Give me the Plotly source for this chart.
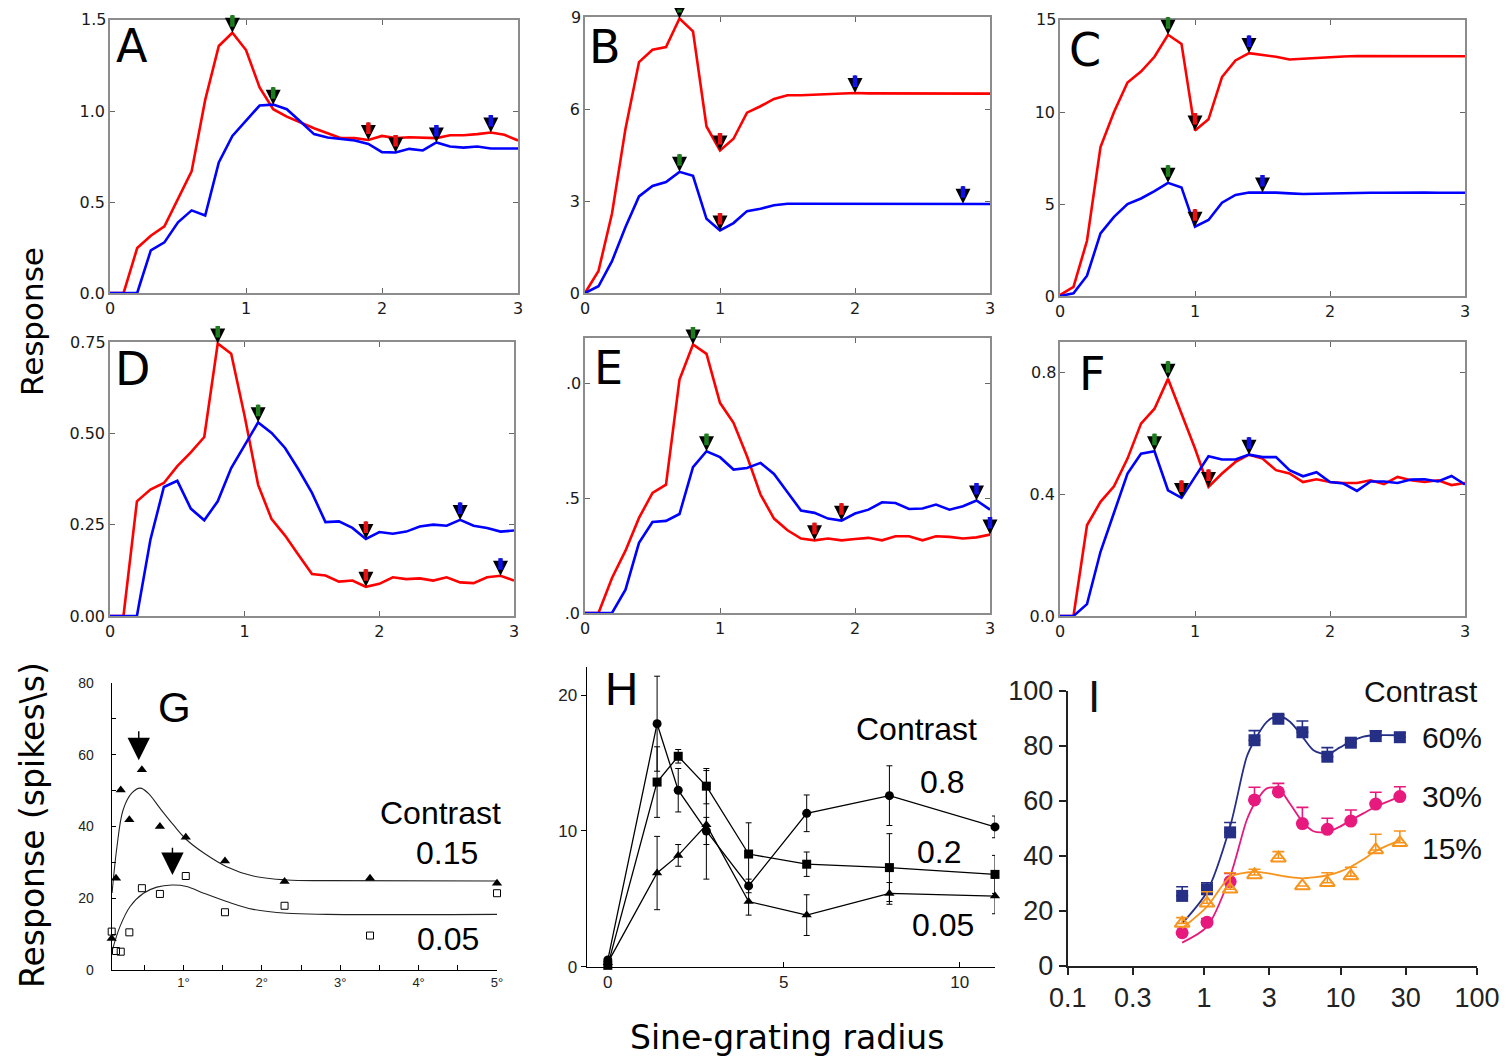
import plotly.graph_objects as go

# reference canvas size; the page body adds an 8 px margin, so the figure is drawn 8 px smaller
REF_W, REF_H = 1510, 1056
OFF = 8
W, H = REF_W - OFF, REF_H - OFF

# ---------------- data: panels A-F (model responses) ----------------
radius = [0.0, 0.1, 0.2, 0.3, 0.4, 0.5, 0.6, 0.7, 0.8, 0.9, 1.0, 1.1, 1.2, 1.3, 1.4, 1.5,
          1.6, 1.7, 1.8, 1.9, 2.0, 2.1, 2.2, 2.3, 2.4, 2.5, 2.6, 2.7, 2.8, 2.9, 3.0]

A_red = [0, 0, 0.247, 0.315, 0.366, 0.516, 0.668, 1.061, 1.357, 1.430, 1.335, 1.130, 1.010,
         0.969, 0.937, 0.905, 0.878, 0.851, 0.851, 0.841, 0.863, 0.851, 0.856, 0.854, 0.851,
         0.867, 0.867, 0.873, 0.882, 0.869, 0.838]
A_blue = [0, 0, 0, 0.234, 0.278, 0.388, 0.454, 0.426, 0.717, 0.863, 0.948, 1.030, 1.035,
          1.010, 0.942, 0.873, 0.854, 0.845, 0.838, 0.819, 0.774, 0.772, 0.792, 0.783, 0.827,
          0.805, 0.799, 0.805, 0.794, 0.794, 0.794]

B_red = [0, 0.72, 2.59, 5.36, 7.53, 7.93, 8.02, 8.95, 8.53, 5.43, 4.65, 5.03, 5.88, 6.09,
         6.33, 6.45, 6.45, 6.47, 6.50, 6.52, 6.52, 6.51, 6.51, 6.51, 6.51, 6.52, 6.52, 6.51,
         6.51, 6.51, 6.50]
B_blue = [0, 0.22, 1.04, 2.15, 3.15, 3.49, 3.62, 3.95, 3.82, 2.42, 2.04, 2.28, 2.67, 2.75,
          2.86, 2.91, 2.91, 2.91, 2.91, 2.91, 2.91, 2.91, 2.91, 2.91, 2.91, 2.91, 2.91, 2.91,
          2.91, 2.90, 2.90]

C_red = [0.05, 0.5, 3.0, 8.1, 10.0, 11.6, 12.2, 13.0, 14.2, 13.7, 9.0, 9.6, 11.9, 12.8,
         13.2, 13.1, 13.0, 12.85, 12.9, 12.95, 13.0, 13.02, 13.04, 13.04, 13.04, 13.04,
         13.04, 13.04, 13.03, 13.03, 13.03]
C_blue = [0.0, 0.15, 1.1, 3.4, 4.3, 5.0, 5.3, 5.7, 6.15, 5.9, 3.77, 4.13, 5.07, 5.49, 5.62,
          5.63, 5.62, 5.58, 5.54, 5.56, 5.58, 5.59, 5.6, 5.61, 5.61, 5.62, 5.62, 5.62, 5.61,
          5.61, 5.61]

D_red = [0, 0, 0.314, 0.346, 0.364, 0.410, 0.448, 0.490, 0.746, 0.718, 0.547, 0.359, 0.265,
         0.220, 0.167, 0.115, 0.111, 0.094, 0.097, 0.080, 0.088, 0.106, 0.101, 0.103, 0.097,
         0.106, 0.092, 0.090, 0.106, 0.110, 0.097]
D_blue = [0, 0, 0, 0.209, 0.353, 0.370, 0.294, 0.262, 0.314, 0.405, 0.466, 0.530, 0.501,
          0.460, 0.401, 0.337, 0.257, 0.259, 0.241, 0.211, 0.230, 0.225, 0.231, 0.245, 0.250,
          0.247, 0.263, 0.247, 0.241, 0.231, 0.234]

E_red = [0, 0, 0.153, 0.272, 0.415, 0.524, 0.560, 1.019, 1.172, 1.131, 0.917, 0.830, 0.684,
         0.517, 0.412, 0.361, 0.325, 0.317, 0.325, 0.317, 0.323, 0.328, 0.317, 0.335, 0.335,
         0.317, 0.335, 0.332, 0.325, 0.330, 0.342]
E_blue = [0, 0, 0, 0.102, 0.306, 0.397, 0.402, 0.432, 0.636, 0.706, 0.680, 0.626, 0.633,
          0.655, 0.607, 0.527, 0.447, 0.437, 0.412, 0.403, 0.434, 0.451, 0.483, 0.480, 0.454,
          0.456, 0.473, 0.451, 0.466, 0.491, 0.451]

F_red = [0, 0, 0.298, 0.375, 0.426, 0.517, 0.632, 0.681, 0.779, 0.664, 0.550, 0.424, 0.468,
         0.506, 0.530, 0.517, 0.479, 0.468, 0.440, 0.449, 0.440, 0.437, 0.437, 0.446, 0.433,
         0.457, 0.446, 0.440, 0.446, 0.430, 0.437]
F_blue = [0, 0, 0.039, 0.211, 0.339, 0.468, 0.533, 0.541, 0.413, 0.388, 0.457, 0.525, 0.514,
          0.514, 0.530, 0.522, 0.522, 0.479, 0.459, 0.472, 0.440, 0.435, 0.411, 0.442, 0.442,
          0.437, 0.448, 0.449, 0.442, 0.460, 0.432]

# arrow markers: (radius, series the arrow points at, arrow colour)
A_arrows = [(0.9, "red", "green"), (1.2, "blue", "green"), (1.9, "red", "red"),
            (2.1, "blue", "red"), (2.4, "blue", "blue"), (2.8, "red", "blue")]
B_arrows = [(0.7, "red", "green"), (0.7, "blue", "green"), (1.0, "red", "red"),
            (1.0, "blue", "red"), (2.0, "red", "blue"), (2.8, "blue", "blue")]
C_arrows = [(0.8, "red", "green"), (0.8, "blue", "green"), (1.0, "red", "red"),
            (1.0, "blue", "red"), (1.4, "red", "blue"), (1.5, "blue", "blue")]
D_arrows = [(0.8, "red", "green"), (1.1, "blue", "green"), (1.9, "blue", "red"),
            (1.9, "red", "red"), (2.6, "blue", "blue"), (2.9, "red", "blue")]
E_arrows = [(0.8, "red", "green"), (0.9, "blue", "green"), (1.7, "red", "red"),
            (1.9, "blue", "red"), (2.9, "blue", "blue"), (3.0, "red", "blue")]
F_arrows = [(0.8, "red", "green"), (0.7, "blue", "green"), (0.9, "blue", "red"),
            (1.1, "red", "red"), (1.4, "blue", "blue")]

# ---------------- data: panel G ----------------
G_x = [0.085, 0.14, 0.2, 0.31, 0.47, 0.70, 1.03, 1.53, 2.29, 3.38, 5.0]
G_c015 = [8.8, 25.6, 50.2, 41.9, 55.8, 40.0, 37.0, 30.4, 24.7, 25.6, 24.2]
G_c005 = [10.7, 5.3, 5.1, 10.5, 22.8, 21.2, 26.2, 16.1, 17.9, 9.6, 21.4]
G_fit_hi_x = [0.09, 0.15, 0.23, 0.34, 0.45, 0.55, 0.70, 0.87, 1.04, 1.26, 1.55, 1.89, 2.32, 2.83, 5.0]
G_fit_hi_y = [21.5, 34.0, 44.6, 49.3, 50.7, 49.3, 45.1, 40.5, 36.3, 32.6, 28.8, 26.2, 25.1, 24.9, 24.8]
G_fit_lo_x = [0.094, 0.19, 0.32, 0.49, 0.66, 0.85, 1.04, 1.26, 1.55, 1.89, 2.32, 2.83, 5.0]
G_fit_lo_y = [5.6, 12.1, 17.7, 21.4, 23.1, 23.7, 23.3, 21.4, 19.1, 16.9, 15.8, 15.5, 15.5]
G_arrow_x = [0.43, 0.86]
G_arrow_tip = [58.5, 26.5]
G_arrow_tail = [67.0, 34.5]

# ---------------- data: panel H ----------------
H_x = [0, 1.4, 2.0, 2.8, 4.0, 5.65, 8.0, 11.0]
H_c08 = [0.5, 17.9, 13.0, 10.0, 5.95, 11.3, 12.6, 10.3]
H_c08_err = [0, 3.5, 1.6, 1.0, 0.5, 1.35, 2.2, 0.8]
H_c02 = [0.1, 13.6, 15.5, 13.3, 8.3, 7.55, 7.3, 6.8]
H_c02_err = [0, 2.6, 0.5, 1.3, 2.3, 0.9, 2.5, 1.4]
H_c005 = [0.3, 6.9, 8.2, 10.45, 4.8, 3.8, 5.4, 5.2]
H_c005_err = [0, 2.7, 0.8, 4.0, 1.0, 1.5, 0.8, 1.3]

# ---------------- data: panel I ----------------
I_x = [0.69, 1.05, 1.55, 2.34, 3.5, 5.25, 8.0, 11.9, 18.1, 27.2]
I_60 = [25.5, 27.9, 48.6, 82.1, 89.9, 85.0, 76.1, 81.2, 83.6, 83.2]
I_60_err = [3.3, 2.4, 3.6, 3.5, 1.4, 4.1, 3.3, 1.2, 1.9, 1.6]
I_30 = [12.1, 15.9, 30.7, 60.4, 63.3, 51.8, 49.7, 52.7, 58.9, 61.6]
I_30_err = [0, 1.4, 3.0, 4.6, 3.1, 5.9, 4.0, 4.0, 4.3, 3.6]
I_15 = [15.5, 22.8, 27.9, 33.1, 39.2, 29.1, 30.3, 32.7, 42.2, 44.8]
I_15_err = [2.1, 4.2, 6.0, 2.1, 2.4, 0, 3.6, 3.2, 5.7, 4.3]
I_fit_x = [0.69, 1.05, 1.55, 2.05, 2.34, 2.88, 3.5, 4.26, 5.25, 6.33, 8.0, 9.9, 11.9, 14.7, 18.1, 27.2]
I_fit_60 = [15.5, 27.0, 50.7, 76.0, 82.0, 88.8, 91.0, 88.8, 83.4, 78.5, 77.0, 79.5, 81.6, 83.4, 83.9, 83.9]
I_fit_30 = [8.5, 14.3, 32.5, 53.0, 59.0, 64.6, 64.6, 59.0, 52.5, 49.0, 48.8, 50.7, 53.0, 55.5, 57.9, 61.6]
I_fit_15 = [13.7, 21.6, 32.5, 34.0, 34.2, 33.8, 33.0, 32.3, 31.9, 32.2, 33.0, 34.3, 36.1, 38.8, 41.8, 45.8]

# ---------------- styles ----------------
RED, BLUE = "#ff0000", "#0000ff"
ARROW_COL = {"green": "#1b7d1b", "red": "#e81010", "blue": "#1010e8"}
MPL_FONT = "DejaVu Sans"
ARIAL = "Liberation Sans, Arial, sans-serif"


def px(x):
    return (x - OFF) / W


def py(y):
    return 1 - (y - OFF) / H


def xdom(l, r):
    return [px(l), px(r)]


def ydom(t, b):
    return [py(b), py(t)]


fig = go.Figure()
layout = dict(width=W, height=H, autosize=False,
              margin=dict(l=0, r=0, t=0, b=0, pad=0, autoexpand=False),
              paper_bgcolor="white", plot_bgcolor="white", showlegend=False)
annotations = []

# (label, red, blue, arrows, box px (l, r, t, b), y range, tick values, tick texts, label pos)
panels = [
    ("A", A_red, A_blue, A_arrows, (110, 518, 20, 293), [0, 1.5], [0, 0.5, 1.0, 1.5], ["0.0", "0.5", "1.0", "1.5"], (132, 46)),
    ("B", B_red, B_blue, B_arrows, (585, 990, 17, 293), [0, 9], [0, 3, 6, 9], ["0", "3", "6", "9"], (605, 47)),
    ("C", C_red, C_blue, C_arrows, (1060, 1465, 20, 296), [0, 15], [0, 5, 10, 15], ["0", "5", "10", "15"], (1085, 50)),
    ("D", D_red, D_blue, D_arrows, (110, 514, 342, 616), [0, 0.75], [0, 0.25, 0.5, 0.75], ["0.00", "0.25", "0.50", "0.75"], (132, 369)),
    ("E", E_red, E_blue, E_arrows, (585, 990, 338, 613), [0, 1.2], [0, 0.5, 1.0], [".0", ".5", ".0"], (608, 368)),
    ("F", F_red, F_blue, F_arrows, (1060, 1465, 342, 616), [0, 0.9], [0, 0.4, 0.8], ["0.0", "0.4", "0.8"], (1092, 374)),
]

for i, (key, red, blue, arrows, box, yr, yt, ytt, lab) in enumerate(panels, start=1):
    s = "" if i == 1 else str(i)
    xa, ya = "x" + s, "y" + s
    fig.add_trace(go.Scatter(x=radius, y=red, mode="lines", line=dict(color=RED, width=2.6),
                             xaxis=xa, yaxis=ya, hoverinfo="skip"))
    fig.add_trace(go.Scatter(x=radius, y=blue, mode="lines", line=dict(color=BLUE, width=2.6),
                             xaxis=xa, yaxis=ya, hoverinfo="skip"))
    common = dict(showgrid=False, zeroline=False, showline=True, linecolor="#8c8c8c",
                  linewidth=1.5, mirror="ticks", ticks="inside", ticklen=5, tickcolor="#666",
                  automargin=False,
                  tickfont=dict(family=MPL_FONT, size=16, color="#1a1a1a"))
    # top tick label drawn as a text so it is not dropped at the page edge
    ytt_axis = ytt[:-1] + [" "]
    layout["xaxis" + s] = dict(domain=xdom(box[0], box[1]), range=[0, 3], tickvals=[0, 1, 2, 3],
                               anchor=ya, **common)
    layout["yaxis" + s] = dict(domain=ydom(box[2], box[3]), range=yr, tickvals=yt, ticktext=ytt_axis,
                               anchor=xa, **common)
    annotations.append(dict(text=ytt[-1], x=0, y=yt[-1], xref=xa + " domain", yref=ya,
                            showarrow=False, xanchor="right", yanchor="middle", xshift=-2,
                            font=dict(family=MPL_FONT, size=16, color="#1a1a1a")))
    annotations.append(dict(text=key, x=px(lab[0]), y=py(lab[1]), xref="paper", yref="paper",
                            showarrow=False, font=dict(family=MPL_FONT, size=46, color="black"),
                            xanchor="center", yanchor="middle"))
    for (ax_x, which, col) in arrows:
        series = red if which == "red" else blue
        yv = series[radius.index(ax_x)]
        annotations.append(dict(x=ax_x, y=yv, xref=xa, yref=ya, ax=0, ay=-19, showarrow=True,
                                arrowhead=2, arrowsize=1.5, arrowwidth=2, arrowcolor="black",
                                text=""))
        annotations.append(dict(x=ax_x, y=yv, xref=xa, yref=ya, ax=0, ay=-19, showarrow=True,
                                arrowhead=0, arrowwidth=4.5, arrowcolor=ARROW_COL[col],
                                standoff=6, text=""))

# ---------------- panel G ----------------
fig.add_trace(go.Scatter(x=G_fit_hi_x, y=G_fit_hi_y, mode="lines", line=dict(color="#222", width=1.1, shape="spline", smoothing=1.0),
                         xaxis="x7", yaxis="y7", hoverinfo="skip"))
fig.add_trace(go.Scatter(x=G_fit_lo_x, y=G_fit_lo_y, mode="lines", line=dict(color="#222", width=1.1, shape="spline", smoothing=1.0),
                         xaxis="x7", yaxis="y7", hoverinfo="skip"))
fig.add_trace(go.Scatter(x=G_x, y=G_c015, mode="markers", marker=dict(symbol="triangle-up", size=9, color="black"),
                         xaxis="x7", yaxis="y7", cliponaxis=False))
fig.add_trace(go.Scatter(x=G_x, y=G_c005, mode="markers",
                         marker=dict(symbol="square-open", size=7, color="black", line=dict(width=1)),
                         xaxis="x7", yaxis="y7", cliponaxis=False))
layout["xaxis7"] = dict(domain=xdom(111.7, 497), range=[0.085, 5.0],
                        tickvals=[0.5, 1, 1.5, 2, 2.5, 3, 3.5, 4, 4.5, 5],
                        ticktext=["", "1°", "", "2°", "", "3°", "", "4°", "", "5°"],
                        ticks="inside", ticklen=5, tickcolor="black", showline=True, linecolor="black",
                        linewidth=1.3, showgrid=False, zeroline=False, anchor="y7", automargin=False,
                        tickfont=dict(family=ARIAL, size=13, color="#222"))
layout["yaxis7"] = dict(domain=ydom(683, 970), range=[0, 80],
                        tickvals=[0, 10, 20, 30, 40, 50, 60, 70, 80],
                        ticktext=["0", "", "20", "", "40", "", "60", "", "80"],
                        ticks="inside", ticklen=4, tickcolor="black", showline=True, linecolor="black",
                        linewidth=1.3, showgrid=False, zeroline=False, anchor="x7", automargin=False,
                        ticklabelstandoff=14, tickfont=dict(family=ARIAL, size=14, color="#222"))
for gx, gtip, gtail in zip(G_arrow_x, G_arrow_tip, G_arrow_tail):
    annotations.append(dict(x=gx, y=gtip, ax=gx, ay=gtail, xref="x7", yref="y7", axref="x7", ayref="y7",
                            showarrow=True, arrowhead=2, arrowsize=3.2, arrowwidth=1.4,
                            arrowcolor="black", text=""))
for txt, cx, cy in [("G", 174, 707), ("Contrast", 440, 813), ("0.15", 447, 853), ("0.05", 448, 939)]:
    annotations.append(dict(text=txt, x=px(cx), y=py(cy), xref="paper", yref="paper", showarrow=False,
                            xanchor="center", yanchor="middle",
                            font=dict(family=ARIAL, size=42 if txt == "G" else 32, color="black")))

# ---------------- panel H ----------------
for yv, ev, sym in [(H_c08, H_c08_err, "circle"), (H_c02, H_c02_err, "square"), (H_c005, H_c005_err, "triangle-up")]:
    fig.add_trace(go.Scatter(x=H_x, y=yv, mode="lines+markers",
                             line=dict(color="black", width=1.3),
                             marker=dict(symbol=sym, size=9, color="black"),
                             error_y=dict(type="data", array=ev, color="black", thickness=1, width=3),
                             xaxis="x8", yaxis="y8", cliponaxis=False))
layout["xaxis8"] = dict(domain=xdom(586.7, 995), range=[-0.6, 11.0], tickvals=[0, 5, 10],
                        ticks="inside", ticklen=5, tickcolor="black", showline=True, linecolor="black",
                        linewidth=1.3, showgrid=False, zeroline=False, anchor="y8", automargin=False,
                        tickfont=dict(family=ARIAL, size=17, color="#222"))
layout["yaxis8"] = dict(domain=ydom(666.7, 966.7), range=[0, 22.1], tickvals=[0, 10, 20],
                        ticks="outside", ticklen=5, tickcolor="black", showline=True, linecolor="black",
                        linewidth=1.3, showgrid=False, zeroline=False, anchor="x8", automargin=False,
                        tickfont=dict(family=ARIAL, size=17, color="#222"))
for txt, cx, cy in [("H", 621, 689), ("Contrast", 917, 729), ("0.8", 942, 782), ("0.2", 939, 852), ("0.05", 943, 925)]:
    annotations.append(dict(text=txt, x=px(cx), y=py(cy), xref="paper", yref="paper", showarrow=False,
                            xanchor="center", yanchor="middle",
                            font=dict(family=ARIAL, size=46 if txt == "H" else 32, color="black")))

# ---------------- panel I ----------------
I_specs = [
    (I_60, I_60_err, I_fit_60, "#262f86", dict(symbol="square", size=12, color="#262f86")),
    (I_30, I_30_err, I_fit_30, "#e8197d", dict(symbol="circle", size=13, color="#e8197d")),
    (I_15, I_15_err, I_fit_15, "#f7941d", dict(symbol="triangle-up-open", size=13, color="#f7941d", line=dict(width=2, color="#f7941d"))),
]
for yv, ev, fit, col, mk in I_specs:
    fig.add_trace(go.Scatter(x=I_fit_x, y=fit, mode="lines", line=dict(color=col, width=1.8, shape="spline", smoothing=0.8),
                             xaxis="x9", yaxis="y9", hoverinfo="skip"))
    fig.add_trace(go.Scatter(x=I_x, y=yv, mode="markers", marker=mk,
                             error_y=dict(type="data", symmetric=False, array=ev, arrayminus=[0] * len(ev),
                                          color=col, thickness=1.6, width=6),
                             xaxis="x9", yaxis="y9", cliponaxis=False))
layout["xaxis9"] = dict(domain=xdom(1067.7, 1477), type="log", range=[-1, 2],
                        tickvals=[0.1, 0.3, 1, 3, 10, 30, 100], ticktext=["0.1", "0.3", "1", "3", "10", "30", "100"],
                        ticks="outside", ticklen=7, tickwidth=2, tickcolor="#222", showline=True, linecolor="#222",
                        linewidth=2, showgrid=False, zeroline=False, anchor="y9", automargin=False,
                        tickfont=dict(family=ARIAL, size=27, color="#222"))
layout["yaxis9"] = dict(domain=ydom(691, 966), range=[0, 100], tickvals=[0, 20, 40, 60, 80, 100],
                        ticks="outside", ticklen=7, tickwidth=2, tickcolor="#222", showline=True, linecolor="#222",
                        linewidth=2, showgrid=False, zeroline=False, anchor="x9", automargin=False,
                        tickfont=dict(family=ARIAL, size=27, color="#222"))
for txt, cx, cy in [("I", 1094, 696), ("Contrast", 1421, 691), ("60%", 1452, 737), ("30%", 1452, 796), ("15%", 1452, 848)]:
    annotations.append(dict(text=txt, x=px(cx), y=py(cy), xref="paper", yref="paper", showarrow=False,
                            xanchor="center", yanchor="middle",
                            font=dict(family=ARIAL, size=44 if txt == "I" else 30, color="#111")))

# ---------------- shared axis titles ----------------
for txt, cx, cy, ang, fs in [("Response", 32, 322, -90, 31), ("Response (spikes\\s)", 32, 825, -90, 33),
                             ("Sine-grating radius", 787, 1037, 0, 33)]:
    annotations.append(dict(text=txt, x=px(cx), y=py(cy), xref="paper", yref="paper", showarrow=False,
                            textangle=ang, xanchor="center", yanchor="middle",
                            font=dict(family=MPL_FONT, size=fs, color="black")))

layout["annotations"] = annotations
fig.update_layout(**layout)
fig.write_html("out.html")
